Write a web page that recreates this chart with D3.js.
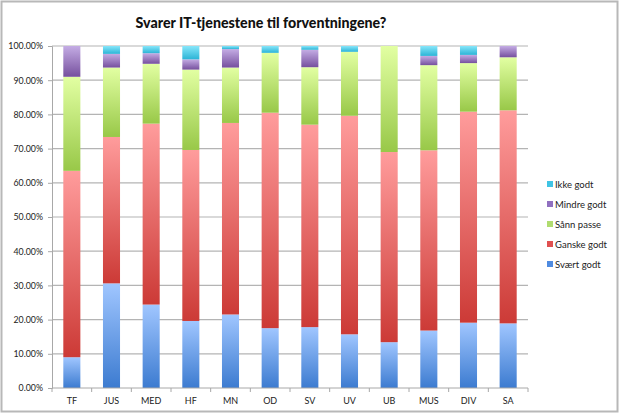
<!DOCTYPE html>
<html><head><meta charset="utf-8">
<script src="https://cdn.jsdelivr.net/npm/d3@7"></script>
<style>body{margin:0;background:#fff}svg{display:block}</style>
</head><body>
<svg id="c" width="620" height="414"></svg>
<script>
const categories = ["TF","JUS","MED","HF","MN","OD","SV","UV","UB","MUS","DIV","SA"];
const seriesNames = ["Svært godt","Ganske godt","Sånn passe","Mindre godt","Ikke godt"];
const svaertGodt  = [9.0,30.6,24.4,19.6,21.5,17.5,17.8,15.7,13.4,16.8,19.1,18.9];
const ganskeGodt  = [54.5,42.8,52.9,50.0,56.0,63.0,59.2,63.9,55.6,52.7,61.7,62.3];
const saannPasse  = [27.5,20.3,17.5,23.5,16.2,17.5,16.8,18.7,31.0,24.9,14.2,15.5];
const mindreGodt  = [9.0,4.0,3.1,3.0,5.4,0,5.1,0,0,2.7,2.4,3.3];
const ikkeGodt    = [0,2.3,2.1,3.9,0.9,2.0,1.1,1.7,0,2.9,2.6,0];
const yTicks = [0,10,20,30,40,50,60,70,80,90,100];

const values = [svaertGodt, ganskeGodt, saannPasse, mindreGodt, ikkeGodt];
const grad = [
  ["#a0c6ff","#3c7bd0"],
  ["#ff9c9c","#cc3a36"],
  ["#e2ffa2","#98c848"],
  ["#c4ace4","#76509e"],
  ["#86e6fa","#2cb4d6"]
];
const legendColor = ["#4f8be0","#e05050","#b0dc70","#9070c0","#40c4e4"];

const svg = d3.select("#c");
const W=620,H=414;
svg.append("rect").attr("x",1.5).attr("y",1.5).attr("width",W-4).attr("height",H-4)
  .attr("fill","#fff").attr("stroke","#b8b8b8").attr("stroke-width",2);

const defs = svg.append("defs");
grad.forEach((g,i)=>{
  const lg = defs.append("linearGradient").attr("id","g"+i).attr("x1",0).attr("y1",0).attr("x2",0).attr("y2",1);
  lg.append("stop").attr("offset","0%").attr("stop-color",g[0]);
  lg.append("stop").attr("offset","100%").attr("stop-color",g[1]);
});

const m={l:52,r:528,t:46,b:388};
const x = d3.scaleBand().domain(categories).range([m.l,m.r]).paddingInner(0.57).paddingOuter(0.285);
const y = d3.scaleLinear().domain([0,100]).range([m.b,m.t]);

// gridlines
svg.append("g").selectAll("line").data(yTicks.filter(d=>d>0)).join("line")
  .attr("x1",m.l).attr("x2",m.r).attr("y1",d=>y(d)).attr("y2",d=>y(d))
  .attr("stroke","#b4b4b4").attr("stroke-width",1.2);

// bars
const stackData = categories.map((c,i)=>{const o={cat:c}; seriesNames.forEach((s,j)=>o[s]=values[j][i]); return o;});
const stack = d3.stack().keys(seriesNames)(stackData);
stack.forEach((layer,j)=>{
  svg.append("g").selectAll("rect").data(layer.filter(d=>d[1]-d[0]>0)).join("rect")
    .attr("x",d=>x(d.data.cat)).attr("width",x.bandwidth())
    .attr("y",d=>y(Math.min(d[1],100))).attr("height",d=>y(d[0])-y(Math.min(d[1],100)))
    .attr("fill","url(#g"+j+")");
});

const FONT = "Lato, 'Open Sans', sans-serif";
// axes
const yAxis = d3.axisLeft(y).tickValues(yTicks).tickSize(4).tickFormat(d=>d.toFixed(2)+"%");
const gy = svg.append("g").attr("transform",`translate(${m.l},0)`).call(yAxis);
gy.select(".domain").attr("stroke","#a8a8a8");
gy.selectAll(".tick line").attr("stroke","#a8a8a8");
gy.selectAll("text").attr("font-family",FONT).attr("font-size",8.8).attr("fill","#222").attr("x",-9);

const xAxisLine = svg.append("g");
xAxisLine.append("line").attr("x1",m.l).attr("x2",m.r).attr("y1",m.b).attr("y2",m.b).attr("stroke","#a8a8a8");
const step = x.step();
const bounds = d3.range(categories.length+1).map(i=>m.l+i*step);
xAxisLine.selectAll(".tk").data(bounds).join("line").attr("class","tk")
  .attr("x1",d=>d).attr("x2",d=>d).attr("y1",m.b).attr("y2",m.b+4).attr("stroke","#a8a8a8");
xAxisLine.selectAll("text").data(categories).join("text")
  .attr("x",d=>x(d)+x.bandwidth()/2).attr("y",m.b+16).attr("text-anchor","middle")
  .attr("font-family",FONT).attr("font-size",9).attr("fill","#222").text(d=>d);

// title
svg.append("text").attr("x",261).attr("y",28).attr("text-anchor","middle")
  .attr("font-family",FONT).attr("font-weight",900).attr("font-size",14.2).attr("fill","#111")
  .text("Svarer IT-tjenestene til forventningene?");

// legend (reverse order)
const leg = svg.append("g");
const order = [4,3,2,1,0];
order.forEach((j,k)=>{
  const ly = 185 + k*20;
  leg.append("rect").attr("x",547).attr("y",ly-4).attr("width",6).attr("height",6).attr("fill",legendColor[j]);
  leg.append("text").attr("x",555).attr("y",ly+3).attr("font-family",FONT)
    .attr("font-size",9.5).attr("fill","#222").text(seriesNames[j]);
});
</script>
</body></html>
